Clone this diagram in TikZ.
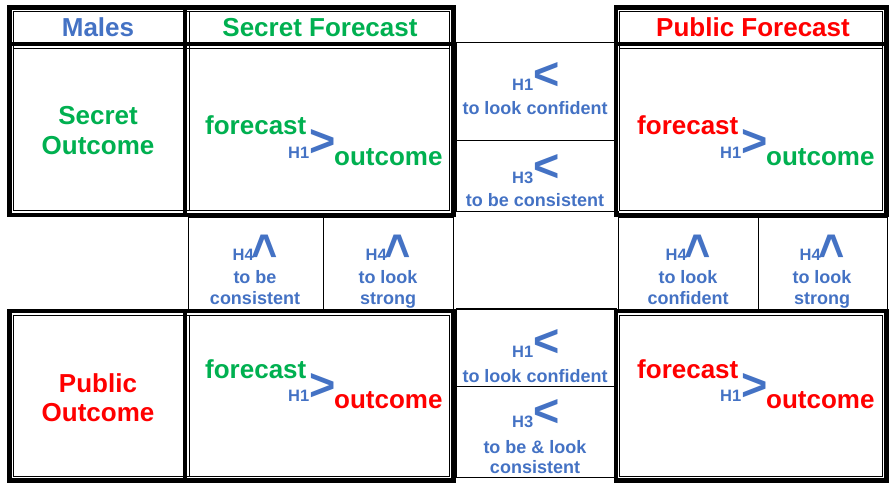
\documentclass[tikz,border=0pt]{standalone}
\usepackage{fontspec}
\setmainfont{Liberation Sans}
\definecolor{hblue}{RGB}{68,114,196}
\definecolor{sgreen}{RGB}{0,176,80}
\definecolor{pred}{RGB}{255,0,0}

\begin{document}
\begin{tikzpicture}[x=1pt,y=-1pt]
\tikzset{
  thickrule/.style={line width=4.8pt},
  thinrule/.style={line width=0.9pt},
  big/.style={font=\fontsize{26}{30}\selectfont\bfseries, inner sep=0pt},
  mid/.style={font=\fontsize{18}{21}\selectfont\bfseries, inner sep=0pt, text=hblue},
  hyp/.style={font=\fontsize{16.5}{18}\selectfont\bfseries, inner sep=0pt, text=hblue},
  chev/.style={font=\fontsize{45}{48}\selectfont\bfseries, inner sep=0pt, text=hblue},
}
\useasboundingbox (0,0) rectangle (889,484);

\foreach \xa/\ya/\xb/\yb in {456/42.7/616/140.7, 456/140.7/616/211, 456/308/616/386,
  456/386/616/477, 188/217/323/309, 323/217/453/309, 453/211/618/309,
  618/217/758/309, 758/217/887/309}
  \draw[thinrule] (\xa,\ya) rectangle (\xb,\yb);

\foreach \xa/\ya/\xb/\yb in {9.5/7.5/453.5/215, 616/7.5/886.5/215,
  9.5/311/453.5/480.5, 616/311/886.5/480.5} {
  \draw[thickrule] (\xa,\ya) rectangle (\xb,\yb);
  \draw[thinrule] (\xa+3.8,\ya+4) rectangle (\xb-3.8,\yb-4.2);
}
\draw[thickrule] (9.5,44) -- (453.5,44);
\draw[thinrule] (13,48) -- (450,48);
\draw[thickrule] (616,44) -- (886.5,44);
\draw[thinrule] (620,48) -- (882,48);
\draw[thickrule] (185,7.5) -- (185,215);
\draw[thinrule] (189,11) -- (189,211);
\draw[thickrule] (185,311) -- (185,480.5);
\draw[thinrule] (189,315) -- (189,476);

% headers
\node[big, text=hblue, anchor=base] (males) at (98,37) {Males};
\node[big, text=sgreen, anchor=base] (secfc) at (320,37) {Secret Forecast};
\node[big, text=pred, anchor=base] (pubfc) at (753,37) {Public Forecast};
\node[big, text=sgreen, anchor=base] (secout) at (98,125) {Secret};
\node[big, text=sgreen, anchor=base] (secoutb) at (98,155) {Outcome};
\node[big, text=pred, anchor=base] (pubout) at (98,392) {Public};
\node[big, text=pred, anchor=base] (puboutb) at (98,421) {Outcome};

% forecast > outcome
\foreach \x/\y/\fc/\oc/\nm in {205/0/sgreen/sgreen/ss, 637/0/pred/sgreen/ps,
  205/243/sgreen/pred/sp, 637/243/pred/pred/pp} {
  \node[big, text=\fc, anchor=base west] (fc\nm) at (\x,135+\y) {forecast};
  \node[hyp, anchor=base west] (h\nm) at (\x+83,158+\y) {H1};
  \node[chev, anchor=base west] (gt\nm) at (\x+104,157+\y) {>};
  \node[big, text=\oc, anchor=base west] (oc\nm) at (\x+129,165+\y) {outcome};
}

% middle column
\foreach \y/\h/\nm in {91/H1/a, 183/H3/b, 357/H1/c, 427/H3/d} {
  \node[hyp, anchor=base west] (h\nm) at (512,\y) {\h};
  \node[chev, anchor=base west] (lt\nm) at (533,\y-1) {<};
}
\node[mid, anchor=base] (looka) at (535,115) {to look confident};
\node[mid, anchor=base] (consb) at (535,206) {to be consistent};
\node[mid, anchor=base] (lookc) at (535,382) {to look confident};
\node[mid, anchor=base] (consd) at (535,453) {to be \& look};
\node[mid, anchor=base] (consdb) at (535,473) {consistent};

% middle row
\foreach \x/\la/\lb/\nm in {255/to be/consistent/p, 388/to look/strong/q,
  688/to look/confident/r, 822/to look/strong/s} {
  \node[hyp, anchor=base east] (h\nm) at (\x-1,260) {H4};
  \node[chev, rotate=90, anchor=center] (up\nm) at (\x+11,246) {>};
  \node[mid, anchor=base] (t\nm) at (\x,283) {\la};
  \node[mid, anchor=base] (tb\nm) at (\x,304) {\lb};
}
\end{tikzpicture}
\end{document}
